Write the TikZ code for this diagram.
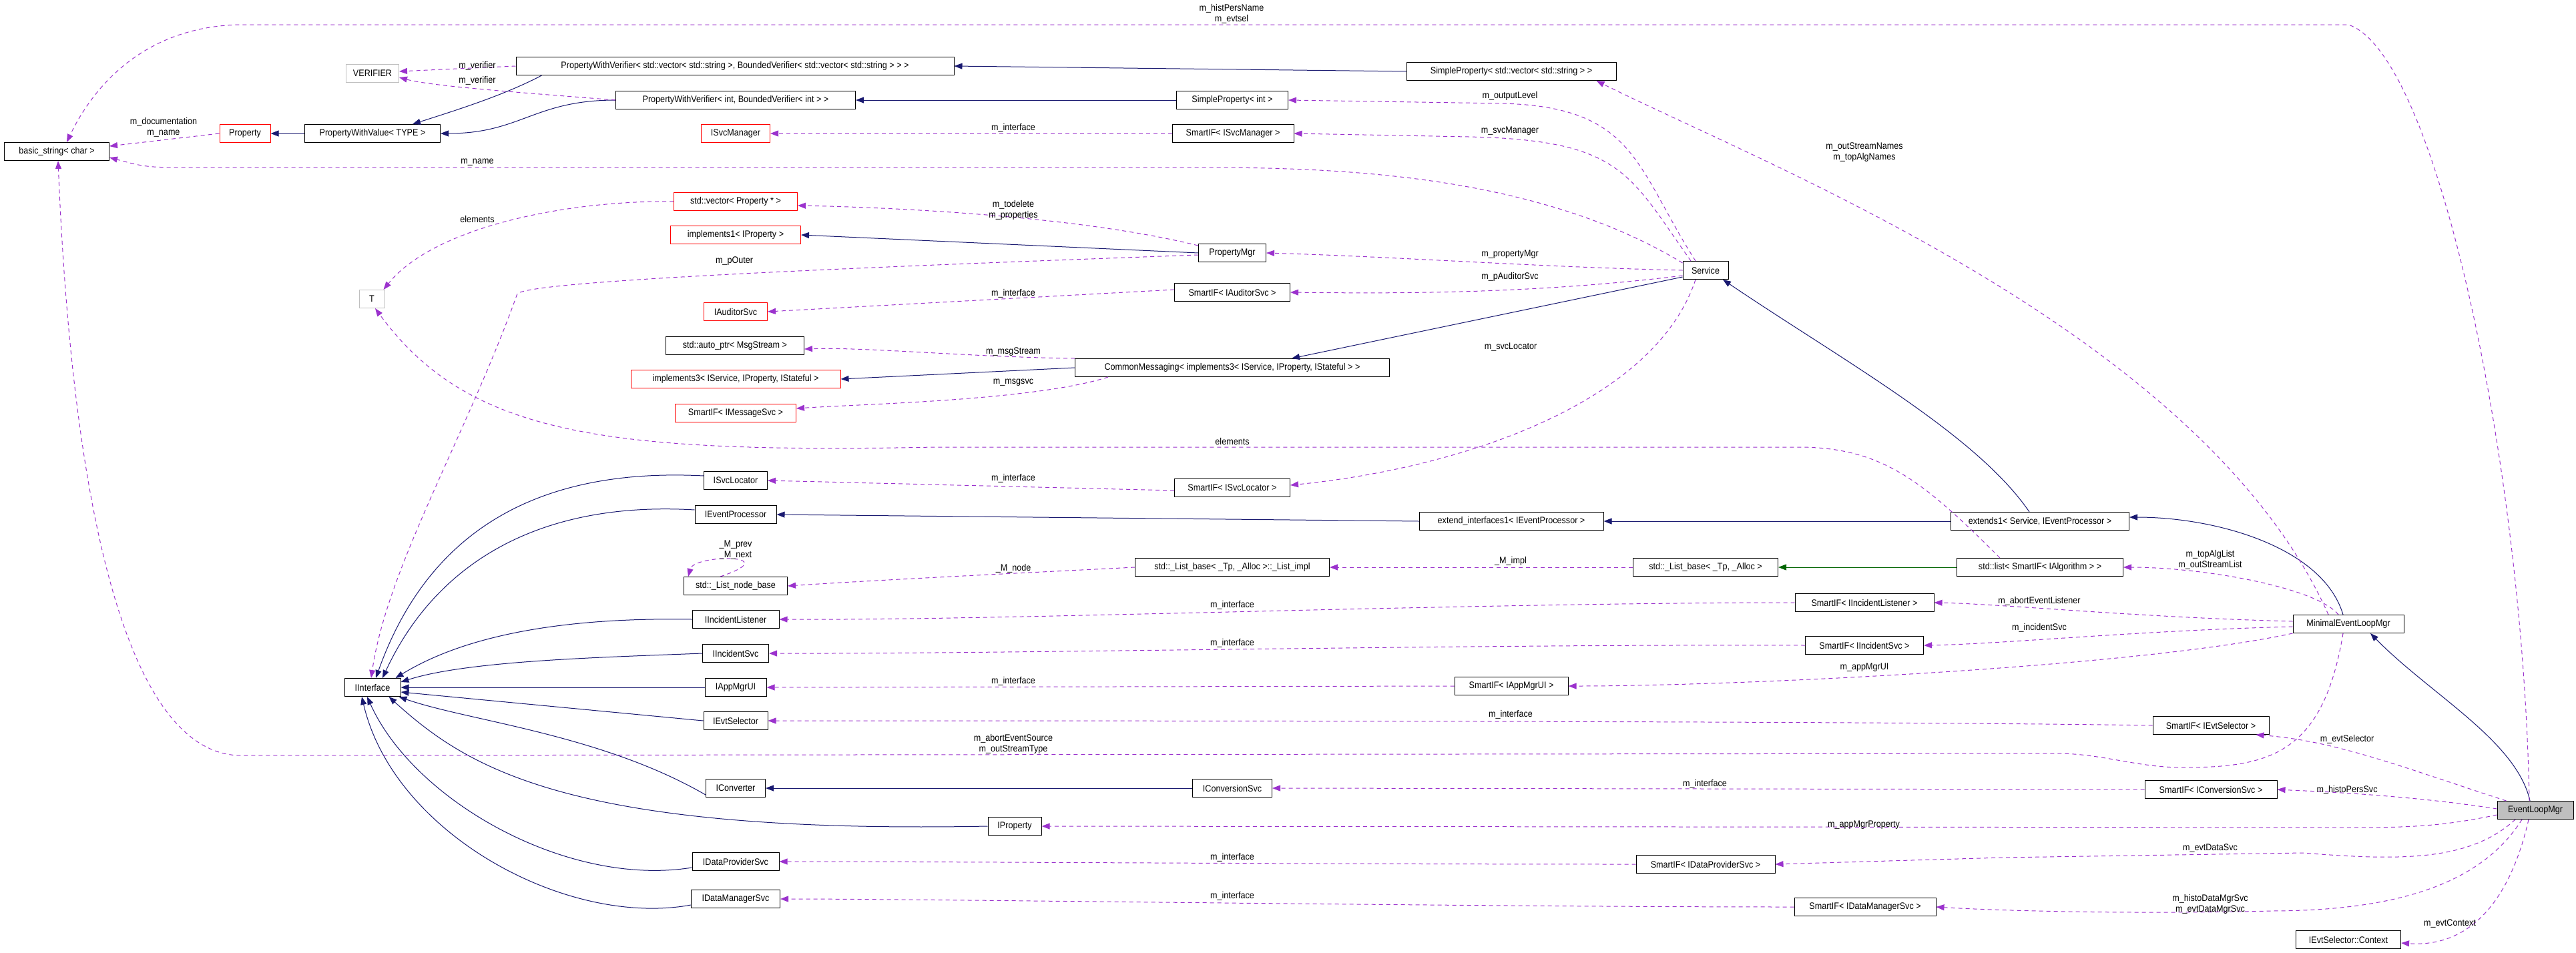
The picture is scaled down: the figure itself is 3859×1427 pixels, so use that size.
\documentclass[tikz,border=0pt]{standalone}
\usepackage{fontspec}
\setmainfont[FakeStretch=0.9]{Liberation Sans}
\usetikzlibrary{arrows.meta}
\definecolor{navy}{RGB}{25,25,112}
\definecolor{usecol}{RGB}{155,50,205}
\definecolor{tmplcol}{RGB}{0,100,0}
\definecolor{greyline}{RGB}{191,191,191}
\begin{document}
\begin{tikzpicture}[x=1pt,y=-1pt]
\tikzstyle{cls}=[draw=black, line width=1pt, minimum height=27pt, inner sep=0pt, font=\fontsize{14}{16}\selectfont]
\tikzstyle{undoc}=[cls, draw=red]
\tikzstyle{ext}=[cls, draw=greyline]
\tikzstyle{base}=[cls, fill=greyline]
\tikzstyle{lbl}=[inner sep=0pt, align=center, font=\fontsize{14}{16}\selectfont]
\tikzstyle{inh}=[-{Triangle[length=12pt,width=9pt]}, draw=navy, line width=1pt]
\tikzstyle{tmpl}=[inh, draw=tmplcol]
\tikzstyle{use}=[-{Triangle[length=12pt,width=9pt]}, draw=usecol, dash pattern=on 6pt off 5pt, line width=1pt]
\useasboundingbox (0,0) rectangle (3859,1427);

% classes
\node[cls, minimum width=157pt] (bstr) at (85,227) {basic\_string< char >};
\node[ext, minimum width=79pt] (verif) at (558,110) {VERIFIER};
\node[cls, minimum width=656pt] (pwvvec) at (1101,99) {PropertyWithVerifier< std::vector< std::string >, BoundedVerifier< std::vector< std::string > > >};
\node[cls, minimum width=359pt] (pwvint) at (1102,150) {PropertyWithVerifier< int, BoundedVerifier< int > >};
\node[undoc, minimum width=76pt] (prop) at (367,200) {Property};
\node[cls, minimum width=203pt] (pwval) at (558,200) {PropertyWithValue< TYPE >};
\node[undoc, minimum width=103pt] (isvcmgr) at (1102,200) {ISvcManager};
\node[undoc, minimum width=185pt] (vecprop) at (1102,302) {std::vector< Property * >};
\node[undoc, minimum width=195pt] (impl1) at (1102,352) {implements1< IProperty >};
\node[ext, minimum width=38pt] (tnode) at (557,448) {T};
\node[undoc, minimum width=95pt] (iaud) at (1102,467) {IAuditorSvc};
\node[cls, minimum width=314pt] (spvec) at (2264,107) {SimpleProperty< std::vector< std::string > >};
\node[cls, minimum width=167pt] (spint) at (1846,150) {SimpleProperty< int >};
\node[cls, minimum width=182pt] (sisvcmgr) at (1847,200) {SmartIF< ISvcManager >};
\node[cls, minimum width=101pt] (propmgr) at (1846,379) {PropertyMgr};
\node[cls, minimum width=173pt] (siaud) at (1846,438) {SmartIF< IAuditorSvc >};
\node[cls, minimum width=68pt] (service) at (2555,405) {Service};
\node[cls, minimum width=207pt] (autoptr) at (1101,518) {std::auto\_ptr< MsgStream >};
\node[undoc, minimum width=314pt] (impl3) at (1102,568) {implements3< IService, IProperty, IStateful >};
\node[undoc, minimum width=181pt] (simsg) at (1102,619) {SmartIF< IMessageSvc >};
\node[cls, minimum width=95pt] (isvcloc) at (1102,720) {ISvcLocator};
\node[cls, minimum width=122pt] (ievtproc) at (1102,771) {IEventProcessor};
\node[cls, minimum width=155pt] (lnode) at (1102,878) {std::\_List\_node\_base};
\node[cls, minimum width=130pt] (iinclis) at (1102,928) {IIncidentListener};
\node[cls, minimum width=99pt] (iincsvc) at (1102,979) {IIncidentSvc};
\node[cls, minimum width=471pt] (cmsg) at (1846,551) {CommonMessaging< implements3< IService, IProperty, IStateful > >};
\node[cls, minimum width=173pt] (sisvcloc) at (1846,731) {SmartIF< ISvcLocator >};
\node[cls, minimum width=276pt] (extif) at (2264,781) {extend\_interfaces1< IEventProcessor >};
\node[cls, minimum width=291pt] (limpl) at (1846,850) {std::\_List\_base< \_Tp, \_Alloc >::\_List\_impl};
\node[cls, minimum width=217pt] (lbase) at (2555,850) {std::\_List\_base< \_Tp, \_Alloc >};
\node[cls, minimum width=267pt] (ext1) at (3056,781) {extends1< Service, IEventProcessor >};
\node[cls, minimum width=249pt] (slist) at (3056,850) {std::list< SmartIF< IAlgorithm > >};
\node[cls, minimum width=208pt] (siinclis) at (2793,903) {SmartIF< IIncidentListener >};
\node[cls, minimum width=177pt] (siincsvc) at (2793,967) {SmartIF< IIncidentSvc >};
\node[cls, minimum width=166pt] (minelm) at (3518,935) {MinimalEventLoopMgr};
\node[cls, minimum width=84pt] (iif) at (558,1030) {IInterface};
\node[cls, minimum width=92pt] (iappui) at (1102,1030) {IAppMgrUI};
\node[cls, minimum width=96pt] (ievtsel) at (1102,1080) {IEvtSelector};
\node[cls, minimum width=89pt] (iconv) at (1102,1181) {IConverter};
\node[cls, minimum width=130pt] (idps) at (1102,1291) {IDataProviderSvc};
\node[cls, minimum width=133pt] (idms) at (1102,1347) {IDataManagerSvc};
\node[cls, minimum width=170pt] (siappui) at (2264,1028) {SmartIF< IAppMgrUI >};
\node[cls, minimum width=119pt] (iconvsvc) at (1846,1181) {IConversionSvc};
\node[cls, minimum width=80pt] (iprop) at (1520,1238) {IProperty};
\node[cls, minimum width=208pt] (sidps) at (2555,1295) {SmartIF< IDataProviderSvc >};
\node[cls, minimum width=174pt] (sievtsel) at (3312,1087) {SmartIF< IEvtSelector >};
\node[cls, minimum width=198pt] (siconv) at (3312,1183) {SmartIF< IConversionSvc >};
\node[base, minimum width=114pt] (elm) at (3798,1214) {EventLoopMgr};
\node[cls, minimum width=212pt] (sidms) at (2794,1359) {SmartIF< IDataManagerSvc >};
\node[cls, minimum width=157pt] (ctx) at (3518,1408) {IEvtSelector::Context};

% inheritance
\draw[inh] ([xshift=39pt]pwvvec.south west) .. controls (760,140) and (700,160) .. ([xshift=60pt]pwval.north);
\draw[inh] (pwvint.west) .. controls (800,150) and (780,200) .. (pwval.east);
\draw[inh] (pwval.west) -- (prop.east);
\draw[inh] (spvec.west) -- (pwvvec.east);
\draw[inh] (spint.west) -- (pwvint.east);
\draw[inh] (propmgr.west) -- (impl1.east);
\draw[inh] (cmsg.west) -- (impl3.east);
\draw[inh] ([yshift=4pt]service.south west) -- ([xshift=89pt]cmsg.north);
\draw[inh] ([xshift=-16pt]ext1.north) .. controls (2960,650) and (2760,540) .. ([xshift=26pt]service.south);
\draw[inh] (ext1.west) -- (extif.east);
\draw[inh] (extif.west) -- (ievtproc.east);
\draw[inh] ([xshift=-8pt]minelm.north) .. controls (3480,820) and (3320,775) .. ([yshift=6pt]ext1.east);
\draw[inh] ([xshift=-8pt]elm.north) .. controls (3770,1110) and (3640,1040) .. ([xshift=33pt]minelm.south);
\draw[tmpl] (slist.west) -- (lbase.east);
\draw[inh] (iconvsvc.west) -- (iconv.east);
\draw[inh] ([yshift=7pt]isvcloc.west) .. controls (800,700) and (640,800) .. ([xshift=5pt]iif.north);
\draw[inh] ([yshift=7pt]ievtproc.west) .. controls (800,750) and (650,850) .. ([xshift=15pt]iif.north);
\draw[inh] (iinclis.west) .. controls (850,925) and (700,950) .. ([xshift=-8pt]iif.north east);
\draw[inh] (iincsvc.west) .. controls (900,985) and (700,990) .. ([yshift=8pt]iif.east);
\draw[inh] (iappui.west) -- (iif.east);
\draw[inh] (ievtsel.west) -- ([yshift=-7pt]iif.east);
\draw[inh] ([yshift=4pt]iconv.south west) .. controls (900,1100) and (700,1080) .. ([xshift=-3pt]iif.south east);
\draw[inh] (iprop.west) .. controls (850,1250) and (700,1150) .. ([xshift=-18pt]iif.south east);
\draw[inh] ([yshift=5pt]idps.south west) .. controls (850,1330) and (620,1200) .. ([xshift=-8pt]iif.south);
\draw[inh] ([yshift=5pt]idms.south west) .. controls (850,1390) and (590,1250) .. ([xshift=-16pt]iif.south);

% members
\draw[use] (pwvvec.west) -- ([yshift=3pt]verif.east);
\draw[use] (pwvint.west) .. controls (800,140) and (650,130) .. ([yshift=-6pt]verif.east);
\draw[use] (prop.west) -- ([yshift=8pt]bstr.east);
\draw[use] ([yshift=-3pt]service.north west) .. controls (2300,260) and (2000,251) .. (1800,251) -- (300,251) .. controls (220,251) .. ([yshift=-9pt]bstr.east);
\draw[use] ([xshift=-9pt]elm.north) .. controls (3780,700) and (3650,80) .. (3518,37) -- (360,37) .. controls (200,40) and (130,150) .. ([xshift=15pt]bstr.north);
\draw[use] ([xshift=-8pt]minelm.south) .. controls (3480,1130) and (3400,1150) .. (3270,1150) .. controls (3200,1150) and (3150,1129) .. (3080,1129) -- (360,1132) .. controls (200,1130) and (110,800) .. ([xshift=2pt]bstr.south);
\draw[use] ([xshift=-15pt]service.north) .. controls (2450,250) and (2450,160) .. (2250,155) -- (spint.east);
\draw[use] ([xshift=-22pt]service.north) .. controls (2440,260) and (2430,210) .. (2200,205) -- (sisvcmgr.east);
\draw[use] (service.west) .. controls (2300,400) and (2100,385) .. (propmgr.east);
\draw[use] ([yshift=-8pt]service.west) .. controls (2300,440) and (2100,440) .. (siaud.east);
\draw[use] ([xshift=-15pt]service.south) .. controls (2480,600) and (2200,700) .. ([yshift=4pt]sisvcloc.east);
\draw[use] (sisvcmgr.west) -- (isvcmgr.east);
\draw[use] ([yshift=4pt]siaud.west) -- (iaud.east);
\draw[use] ([yshift=-4pt]sisvcloc.west) -- (isvcloc.east);
\draw[use] ([yshift=-3pt]propmgr.north west) .. controls (1600,320) and (1300,310) .. ([yshift=-6pt]vecprop.east);
\draw[use] ([yshift=-3pt]propmgr.west) .. controls (1300,400) and (800,420) .. (775,440) .. controls (700,650) and (580,850) .. ([xshift=-2pt]iif.north);
\draw[use] (vecprop.west) .. controls (850,300) and (650,340) .. ([xshift=-2pt]tnode.north east);
\draw[use] ([xshift=-60pt]slist.north) .. controls (2880,720) and (2820,672) .. (2700,670) -- (1400,670) .. controls (900,680) and (700,650) .. ([xshift=5pt]tnode.south);
\draw[use] (cmsg.north west) .. controls (1450,535) and (1300,520) .. ([yshift=-5pt]autoptr.east);
\draw[use] ([xshift=50pt]cmsg.south west) .. controls (1550,600) and (1300,605) .. ([yshift=7pt]simsg.east);
\draw[use] ([xshift=55pt]lnode.north west) .. controls (1180,830) and (1040,830) .. ([xshift=7pt]lnode.north west);
\draw[use] (limpl.west) .. controls (1500,860) and (1300,870) .. (lnode.east);
\draw[use] (lbase.west) -- (limpl.east);
\draw[use] ([xshift=-15pt]minelm.north) .. controls (3470,880) and (3300,850) .. (slist.east);
\draw[use] ([yshift=4pt]minelm.west) .. controls (3200,925) and (3000,905) .. (siinclis.east);
\draw[use] ([yshift=-4pt]minelm.west) .. controls (3200,945) and (3000,965) .. (siincsvc.east);
\draw[use] (minelm.south west) .. controls (3200,1000) and (2600,1028) .. (siappui.east);
\draw[use] ([xshift=-30pt]minelm.north) .. controls (3300,500) and (2650,250) .. ([xshift=-30pt]spvec.south east);
\draw[use] (siinclis.west) .. controls (2200,903) and (1500,930) .. (iinclis.east);
\draw[use] (siincsvc.west) .. controls (2200,965) and (1500,980) .. (iincsvc.east);
\draw[use] (siappui.west) -- (iappui.east);
\draw[use] (sievtsel.west) .. controls (2800,1080) and (1500,1080) .. (ievtsel.east);
\draw[use] (siconv.west) -- (iconvsvc.east);
\draw[use] (sidps.west) .. controls (2000,1295) and (1400,1291) .. (idps.east);
\draw[use] (sidms.west) .. controls (2200,1359) and (1400,1347) .. (idms.east);
\draw[use] ([xshift=14pt]elm.north west) .. controls (3600,1150) and (3500,1110) .. ([xshift=-20pt]sievtsel.south east);
\draw[use] ([yshift=2pt]elm.west) .. controls (3600,1190) and (3450,1185) .. (siconv.east);
\draw[use] ([yshift=-7pt]elm.west) .. controls (3650,1240) and (3600,1240) .. (3500,1240) -- (iprop.east);
\draw[use] ([xshift=-30pt]elm.south) .. controls (3700,1290) and (3600,1290) .. (3450,1278) -- (3000,1285) -- (sidps.east);
\draw[use] ([xshift=-20pt]elm.south) .. controls (3720,1320) and (3600,1365) .. (3400,1365) .. controls (3200,1370) and (3000,1365) .. (sidms.east);
\draw[use] ([xshift=-10pt]elm.south) .. controls (3760,1350) and (3700,1420) .. ([yshift=-5pt]ctx.east);

% labels
\node[lbl] (lverifa) at (715,99) {m\_verifier};
\node[lbl] (lverifb) at (715,121) {m\_verifier};
\node[lbl] (ldoc) at (245,191) {m\_documentation\\m\_name};
\node[lbl] (lname) at (715,243) {m\_name};
\node[lbl] (lelema) at (715,328) {elements};
\node[lbl] (louter) at (1100,391) {m\_pOuter};
\node[lbl] (lhist) at (1845,21) {m\_histPersName\\m\_evtsel};
\node[lbl] (lstream) at (2793,228) {m\_outStreamNames\\m\_topAlgNames};
\node[lbl] (lout) at (2262,144) {m\_outputLevel};
\node[lbl] (lsvcmgr) at (2262,196) {m\_svcManager};
\node[lbl] (lifa) at (1518,192) {m\_interface};
\node[lbl] (ltodel) at (1518,315) {m\_todelete\\m\_properties};
\node[lbl] (lpmgr) at (2262,381) {m\_propertyMgr};
\node[lbl] (laud) at (2262,415) {m\_pAuditorSvc};
\node[lbl] (lifb) at (1518,440) {m\_interface};
\node[lbl] (lmsgs) at (1518,527) {m\_msgStream};
\node[lbl] (lmsgsvc) at (1518,573) {m\_msgsvc};
\node[lbl] (lsvcloc) at (2263,520) {m\_svcLocator};
\node[lbl] (lelemb) at (1846,661) {elements};
\node[lbl] (lifc) at (1518,717) {m\_interface};
\node[lbl] (lprev) at (1102,824) {\_M\_prev\\\_M\_next};
\node[lbl] (lmnode) at (1518,852) {\_M\_node};
\node[lbl] (lmimpl) at (2263,841) {\_M\_impl};
\node[lbl] (lifd) at (1846,907) {m\_interface};
\node[lbl] (life) at (1846,964) {m\_interface};
\node[lbl] (ltop) at (3311,839) {m\_topAlgList\\m\_outStreamList};
\node[lbl] (labl) at (3055,901) {m\_abortEventListener};
\node[lbl] (linc) at (3055,941) {m\_incidentSvc};
\node[lbl] (lappui) at (2793,1000) {m\_appMgrUI};
\node[lbl] (liff) at (1518,1021) {m\_interface};
\node[lbl] (lifg) at (2263,1071) {m\_interface};
\node[lbl] (labs) at (1518,1115) {m\_abortEventSource\\m\_outStreamType};
\node[lbl] (lifh) at (2554,1175) {m\_interface};
\node[lbl] (lifi) at (1846,1285) {m\_interface};
\node[lbl] (lifj) at (1846,1343) {m\_interface};
\node[lbl] (lsel) at (3516,1108) {m\_evtSelector};
\node[lbl] (lhpers) at (3516,1184) {m\_histoPersSvc};
\node[lbl] (lappp) at (2792,1236) {m\_appMgrProperty};
\node[lbl] (ldata) at (3311,1271) {m\_evtDataSvc};
\node[lbl] (ldmgr) at (3311,1355) {m\_histoDataMgrSvc\\m\_evtDataMgrSvc};
\node[lbl] (lctx) at (3670,1384) {m\_evtContext};
\end{tikzpicture}
\end{document}
